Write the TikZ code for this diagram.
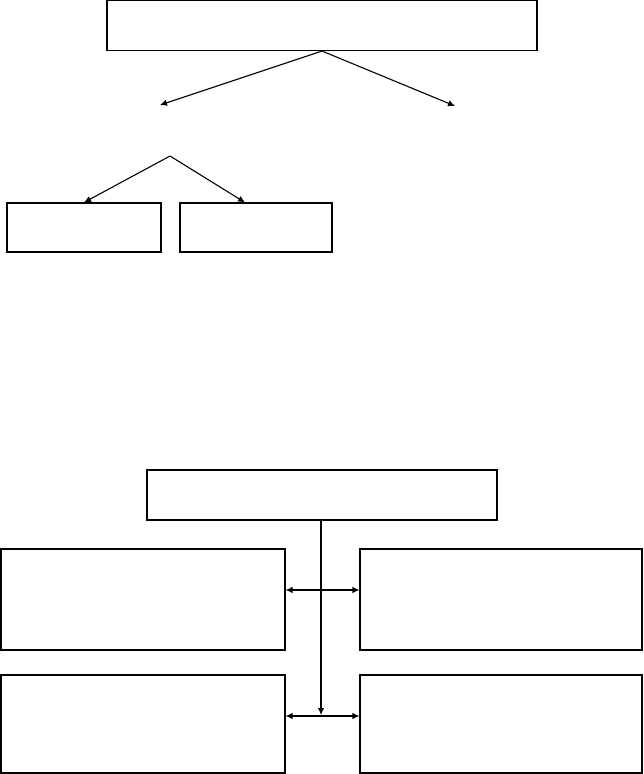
\documentclass[tikz,border=0pt]{standalone}
\usepackage{tikz}
\usetikzlibrary{arrows.meta}

\tikzset{
  box/.style = {draw=black, line width=1.1pt, inner sep=0pt},
  link/.style = {black, line width=1.1pt, -{Latex[length=7pt, width=6.5pt]}},
  twolink/.style = {black, line width=1.1pt, {Latex[length=7pt, width=6.5pt]}-{Latex[length=7pt, width=6.5pt]}}
}

\begin{document}
\begin{tikzpicture}[x=1pt, y=-1pt]
            \useasboundingbox (0, 0) rectangle (643, 774);

            % upper tree
            \node[box, minimum width=430pt, minimum height=50pt] (head) at (322, 25.5) {};
            \coordinate (leftend) at (160, 105);
            \coordinate (rightend) at (455, 106);
            \coordinate (apex) at (170, 156);
            \node[box, minimum width=154pt, minimum height=49pt] (leafa) at (84, 227.5) {};
            \node[box, minimum width=152pt, minimum height=49pt] (leafb) at (256, 227.5) {};

            \draw[link] (head.south) -- (leftend);
            \draw[link] (head.south) -- (rightend);
            \draw[link] (apex) -- (leafa.north);
            \draw[link] (apex) -- ([xshift=-11pt]leafb.north);

            % lower block
            \node[box, minimum width=350pt, minimum height=50pt] (hub) at (322, 495) {};
            \node[box, minimum width=284pt, minimum height=101pt] (cella) at (143, 599.5) {};
            \node[box, minimum width=284pt, minimum height=98pt] (cellc) at (143, 724) {};
            \node[box, minimum width=282pt, minimum height=101pt] (cellb) at (501, 599.5) {};
            \node[box, minimum width=282pt, minimum height=98pt] (celld) at (501, 724) {};
            \coordinate (stem) at (321, 715);

            \draw[link] ([xshift=-1pt]hub.south) -- (stem);
            \draw[twolink] (cella.east |- 0, 590) -- (cellb.west |- 0, 590);
            \draw[twolink] (cellc.east |- 0, 716) -- (celld.west |- 0, 716);
\end{tikzpicture}
\end{document}
